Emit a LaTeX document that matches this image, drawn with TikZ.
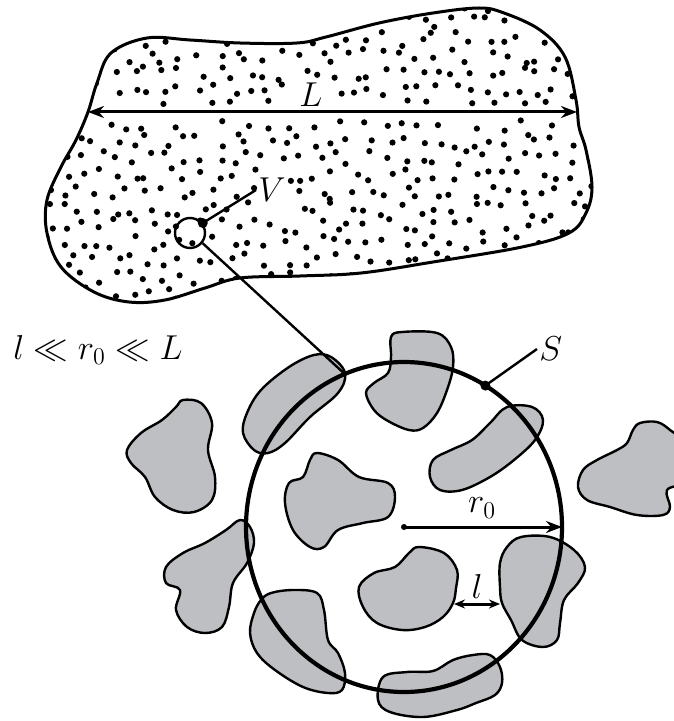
\documentclass[tikz,border=0pt]{standalone}
\usetikzlibrary{arrows.meta,calc}
\definecolor{grainfill}{RGB}{190,191,195}
% outline of the large body
\newcommand{\cloudpath}{plot[smooth cycle,tension=0.6] coordinates {(111,53) (147,38) (190,40) (240,43) (297,43) (326,37) (379,23) (433,13) (479,8) (504,13) (540,30) (565,57) (576,100) (579,127) (586,150) (592,187) (586,213) (569,233) (522,247) (433,262) (361,273) (300,276) (240,278) (205,288) (165,300) (129,302) (94,292) (61,267) (47,233) (47,200) (61,167) (76,140) (88,112) (97,83)}}
\begin{document}
\begin{tikzpicture}[x=0.5pt,y=-0.5pt,
  grain/.style={fill=grainfill,draw=black,line width=1.2pt},
  lbl/.style={font=\fontsize{17}{20}\selectfont,inner sep=1pt},
  dbl/.style={{Stealth[length=8pt,width=6pt]}-{Stealth[length=8pt,width=6pt]},line width=1.5pt},
  pin/.style={line width=1.2pt}]
\useasboundingbox (0,0) rectangle (673,721);

% body with particles
\draw[line width=1.5pt] \cloudpath;
\begin{scope}
  \clip \cloudpath;
  \pgfmathsetseed{11}
  \foreach \i in {0,...,32}
    \foreach \j in {0,...,18}{
      \pgfmathsetmacro{\px}{46+17*\i+7*rand}
      \pgfmathsetmacro{\py}{5+17*\j+7*rand}
      \pgfmathtruncatemacro{\keep}{(abs(\py-112)<8 || (\px>292 && \px<332 && \py>80 && \py<108) || (\px>258 && \px<290 && \py>174 && \py<206)) ? 0 : 1}
      \ifnum\keep=1 \fill (\px,\py) circle[radius=3.1]; \fi
    }
\end{scope}

% size L of the body
\coordinate (lleft) at (88,112);
\coordinate (lright) at (577,112);
\draw[dbl] (lleft) -- (lright);
\node[lbl] (llab) at (311,95) {$L$};

% small volume V
\node[draw,circle,minimum size=15pt,inner sep=0pt,line width=1.2pt] (vcell) at (190,233) {};
\coordinate (vdot) at (vcell.38);
\fill (vdot) circle[radius=5];
\node[lbl] (vlab) at (272,190) {$V$};
\draw[pin] (vdot) -- (vlab.west);

\node[lbl] (ratio) at (98,350) {$l \ll r_0 \ll L$};

% grains
\draw[grain] plot[smooth cycle,tension=0.6] coordinates {(345,373) (331,357) (314,355) (289,367) (261,390) (247,413) (243,433) (254,450) (268,453) (285,443) (310,417) (338,393)};
\draw[grain] plot[smooth cycle,tension=0.6] coordinates {(391,337) (402,332) (437,333) (451,347) (453,367) (447,390) (437,413) (423,428) (409,430) (388,421) (374,410) (366,393) (374,383) (388,373) (391,357)};
\draw[grain] plot[smooth cycle,tension=0.6] coordinates {(507,407) (532,407) (543,420) (535,440) (514,460) (490,477) (462,490) (440,490) (430,477) (433,460) (451,450) (472,440) (490,423)};
\draw[grain] plot[smooth cycle,tension=0.6] coordinates {(183,400) (201,403) (212,423) (208,450) (215,477) (212,500) (194,512) (173,510) (155,497) (145,477) (131,463) (127,450) (141,433) (162,420) (176,407)};
\draw[grain] plot[smooth cycle,tension=0.6] coordinates {(317,453) (338,460) (359,477) (388,483) (395,497) (388,517) (363,523) (338,530) (324,547) (310,547) (293,530) (285,503) (289,483) (303,477) (310,460)};
\draw[grain] plot[smooth cycle,tension=0.6] coordinates {(640,423) (657,422) (670,430) (685,445) (685,480) (667,490) (670,507) (663,515) (637,515) (610,507) (587,500) (578,487) (583,470) (597,460) (617,450) (627,443) (633,430)};
\draw[grain] plot[smooth cycle,tension=0.6] coordinates {(240,520) (250,527) (254,543) (247,563) (233,583) (229,607) (222,627) (205,633) (187,627) (176,610) (180,590) (166,583) (166,567) (183,553) (205,543) (226,530)};
\draw[grain] plot[smooth cycle,tension=0.6] coordinates {(419,547) (444,553) (457,570) (456,588) (453,603) (443,617) (425,627) (402,630) (377,623) (363,607) (359,587) (374,573) (395,567) (409,553)};
\draw[grain] plot[smooth cycle,tension=0.6] coordinates {(521,537) (550,537) (574,550) (585,567) (578,583) (564,600) (560,623) (557,640) (543,647) (522,640) (511,620) (502,603) (500,587) (500,563) (507,547)};
\draw[grain] plot[smooth cycle,tension=0.6] coordinates {(271,593) (293,590) (317,593) (324,610) (328,640) (338,653) (345,673) (342,690) (328,693) (303,687) (275,670) (257,653) (250,633) (254,613) (261,600)};
\draw[grain] plot[smooth cycle,tension=0.6] coordinates {(383,677) (407,672) (433,671) (453,660) (473,655) (490,655) (500,667) (502,683) (495,695) (476,703) (457,710) (423,717) (390,712) (378,700)};

% sphere S of radius r0
\coordinate (c) at (404,527);
\draw[line width=2.1pt] (c) ellipse[x radius=158,y radius=165];
\coordinate (ceast) at ($(c)+(158,0)$);
\coordinate (sdot) at ($(c)+(-59:158 and 165)$);
\coordinate (vend) at ($(c)+(-112:158 and 165)$);
\draw[pin] (vcell.-39) -- (vend);
\fill (sdot) circle[radius=5];
\node[lbl,anchor=west] (slab) at (537,349) {$S$};
\draw[pin] (sdot) -- (slab.west);

% radius r0
\fill (c) circle[radius=3];
\draw[-{Stealth[length=8pt,width=6pt]},line width=1.5pt] (c) -- (ceast);
\node[lbl] (rlab) at (482,508) {$r_0$};

% gap l between grains
\coordinate (gapa) at (454,604);
\coordinate (gapb) at (500,604);
\draw[dbl,{Stealth[length=5.5pt,width=4.5pt]}-{Stealth[length=5.5pt,width=4.5pt]}] (gapa) -- (gapb);
\node[lbl] (glab) at (477,586) {$l$};
\end{tikzpicture}
\end{document}
